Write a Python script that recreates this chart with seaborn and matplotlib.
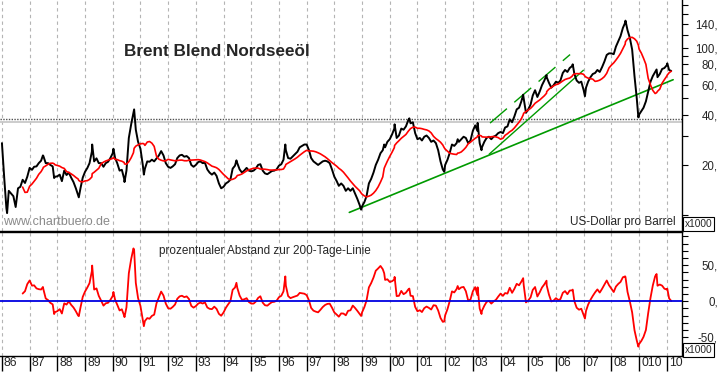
import numpy as np
import pandas as pd
import seaborn as sns
import matplotlib.pyplot as plt
from matplotlib.ticker import FixedLocator, NullFormatter
from matplotlib.transforms import ScaledTranslation

# Brent monthly values (USD/barrel), one row per year (month start)
p86 = [27, 16.5, 11, 14, 13.5, 13, 11.2, 14.5, 14.8, 16.3, 15.6, 17]
p87 = [19.2, 18.7, 19.5, 19.6, 20.5, 21.2, 22.6, 20.5, 20.5, 20, 19.6, 17]
p88 = [17.1, 17.5, 16, 18.5, 17.4, 18, 16.8, 15.8, 14.5, 13.2, 14.5, 16.8]
p89 = [18.2, 19.2, 20.5, 24, 21, 21.9, 20.5, 20.5, 19.5, 20.5, 20.9, 22]
p90 = [23.5, 22, 20.5, 18.5, 18.7, 16.5, 18.5, 29, 35, 41, 32.5, 27.5]
p91 = [25, 20, 19, 21, 20.9, 21.5, 21, 21.9, 22.8, 24.2, 22.8, 20.5]
p92 = [19.5, 19.2, 19.6, 20.2, 22, 22.8, 23, 22.4, 22.6, 22, 20, 19.5]
p93 = [20, 20.8, 21, 20.5, 20.6, 18.8, 18, 17.5, 18, 17.2, 15.5, 14.5]
p94 = [14.8, 15.5, 15.8, 16.3, 19, 19.8, 20.5, 18.8, 18, 18.5, 19.2, 18.5]
p95 = [18.3, 18.5, 19, 20, 20.2, 18.5, 17.8, 17.6, 18, 18.4, 18.5, 18.8]
p96 = [19.8, 20.2, 21.5, 24.5, 22, 21.8, 22.5, 23.2, 24, 25.5, 26, 26.5]
p97 = [26.5, 24.5, 22, 21, 20.5, 20, 20.5, 21, 21.2, 21, 20.5, 18.8]
p98 = [17, 16, 15, 15.5, 15, 14, 14.5, 14, 14.5, 13.5, 12.5, 11.5]
p99 = [11.3, 12, 13, 15.5, 16.5, 18, 20, 21.5, 23.5, 24.5, 25.5, 27.5]
p00 = [28.5, 30.5, 33, 29, 30, 33, 32.5, 34, 37, 35.5, 36, 31]
p01 = [28.5, 29, 28, 29.5, 30, 29, 27.5, 28, 27, 24.5, 21, 18.8]
p02 = [20, 21.5, 23.5, 26.5, 26, 27, 27.5, 28.5, 29.5, 29, 27, 28]
p03 = [32, 34.5, 32, 27, 25.5, 27.5, 29, 29.5, 28.5, 29.5, 30, 31]
p04 = [31.5, 31, 33.5, 34, 37.5, 36, 39, 43, 44, 48, 50, 41]
p05 = [43, 46, 52, 56, 51, 55, 60, 64, 67, 62, 58, 60]
p06 = [63, 62, 64, 71, 74, 72, 76, 78, 70, 64, 62, 63]
p07 = [56, 58, 63, 67, 70, 71, 74, 72, 77, 83, 91, 93]
p08 = [93, 92, 102, 110, 118, 132, 142, 128, 115, 98, 68, 50]
p09 = [40, 42, 44, 48, 55, 63, 68, 72, 67, 70, 75, 76]
p10 = [79, 74, 73]

brent = (p86 + p87 + p88 + p89 + p90 + p91 + p92 + p93 + p94 + p95 + p96 + p97 + p98
         + p99 + p00 + p01 + p02 + p03 + p04 + p05 + p06 + p07 + p08 + p09 + p10)

# intra-month highs / lows visible as spikes in the chart
spike_dates = ["1986-03-10", "1987-06-25", "1987-11-20", "1988-10-10", "1989-04-05",
               "1990-01-10", "1990-06-05", "1990-10-10", "1991-02-15", "1994-06-20",
               "1996-03-25", "1998-12-20", "1999-10-20", "2000-03-05", "2000-09-15",
               "2001-12-20", "2002-06-15", "2003-03-05", "2003-04-25", "2004-10-25",
               "2005-08-30", "2006-08-10", "2007-01-18", "2008-07-05", "2008-12-22",
               "2009-08-20", "2010-01-08"]
spike_values = [10.3, 22.8, 16.7, 12.8, 26.5,
                25, 15.8, 43, 17.5, 21.3,
                26.5, 10.8, 26.5, 35, 38,
                18.2, 28.5, 35.7, 24.5, 52.6,
                69, 80, 51.5, 146, 38.5,
                74.5, 81]

# trend lines (decimal year, price)
trend_long_t = [1998.54, 2010.23]
trend_long_v = [10.4, 64.7]
trend_mid_t = [2003.59, 2006.99]
trend_mid_v = [23.2, 73.7]
channel_t = [2003.62, 2006.51]
channel_v = [35.6, 91.5]
level_dark = 37.7
level_light = 36.2

year_ticks = list(range(1986, 2011))
year_labels = ['86', '87', '88', '89', '90', '91', '92', '93', '94', '95', '96', '97', '98',
               '99', '00', '01', '02', '03', '04', '05', '06', '07', '08', '010', '10']
price_ticks = [20, 40, 60, 80, 100, 140]
price_minor = [10, 30, 50, 70, 90, 120, 160, 180]
osc_ticks = [-50, 0, 50]
osc_minor = [-70, -60, -40, -30, -20, -10, 10, 20, 30, 40, 60, 70, 80, 90]

monthly = pd.DataFrame({"date": pd.date_range("1986-01-01", periods=len(brent), freq="MS"),
                        "price": brent})
spikes = pd.DataFrame({"date": pd.to_datetime(spike_dates), "price": spike_values})
df = pd.concat([monthly, spikes]).sort_values("date").reset_index(drop=True)
df["t"] = df["date"].dt.year + (df["date"].dt.dayofyear - 1) / 365.25
# 200 trading days ~ 290 calendar days
df["ma200"] = df.rolling("290D", on="date")["price"].mean()
df.loc[df["date"] < df["date"].iloc[0] + pd.Timedelta(days=270), "ma200"] = np.nan
df["abstand"] = (df["price"] / df["ma200"] - 1) * 100

sns.set_style("white")
plt.rcParams['font.family'] = ['Liberation Sans', 'DejaVu Sans']

W, H = 723, 373
fig = plt.figure(figsize=(W / 100, H / 100), dpi=100)
ax1 = fig.add_axes([0, 1 - 231 / H, 682 / W, 231 / H])
ax2 = fig.add_axes([0, 1 - 356 / H, 682 / W, 124 / H])

xlim = (1985.93, 2010.55)
grid_kw = dict(axis='x', color='#b4b4b4', linestyle=(0, (3, 3)), linewidth=0.8)

# ---- top panel: price, 200-day line, trend lines
ax1.axhline(level_light, color='#c8c8c8', lw=1.3, zorder=1)
ax1.axhline(level_dark, color='#505050', lw=1.0, ls=(0, (1, 1)), zorder=1)
sns.lineplot(data=df, x="t", y="price", color="black", lw=1.4, ax=ax1, zorder=3)
sns.lineplot(data=df, x="t", y="ma200", color="#ff0000", lw=1.2, ax=ax1, zorder=4)
sns.lineplot(x=trend_long_t, y=trend_long_v, color="#009a00", lw=1.2, ax=ax1, zorder=2)
sns.lineplot(x=trend_mid_t, y=trend_mid_v, color="#009a00", lw=1.0, ax=ax1, zorder=2)
sns.lineplot(x=channel_t, y=channel_v, color="#009a00", lw=1.0, ax=ax1, zorder=2,
             linestyle=(0, (16, 7)))
ax1.set_yscale('log')
ax1.set_ylim(8.05, 194)
ax1.set_xlim(*xlim)
ax1.set_xlabel('')
ax1.set_ylabel('')
ax1.set_xticks(year_ticks)
ax1.tick_params(axis='x', length=0, labelbottom=False)
ax1.grid(**grid_kw)
ax1.yaxis.tick_right()
ax1.yaxis.set_major_locator(FixedLocator(price_ticks))
ax1.yaxis.set_minor_locator(FixedLocator(price_minor))
ax1.yaxis.set_minor_formatter(NullFormatter())
ax1.set_yticks(price_ticks, labels=[f"{v}," for v in price_ticks], ha='right')
ax1.tick_params(axis='y', which='both', direction='out', length=4.3, width=0.8,
                color='black', labelsize=8.3, pad=21.5, right=True, left=False)
for side in ['left', 'top']:
    ax1.spines[side].set_visible(False)
for side in ['right', 'bottom']:
    ax1.spines[side].set_color('black')
    ax1.spines[side].set_linewidth(1.0)

# ---- bottom panel: percentage distance to 200-day line
sns.lineplot(data=df, x="t", y="abstand", color="#ff0000", lw=1.3, ax=ax2, zorder=3)
ax2.axhline(0, color='#0000e0', lw=1.3, zorder=4)
ax2.set_xlim(*xlim)
ax2.set_ylim(-76, 96)
ax2.set_xlabel('')
ax2.set_ylabel('')
ax2.grid(**grid_kw)
ax2.yaxis.tick_right()
ax2.yaxis.set_minor_locator(FixedLocator(osc_minor))
ax2.yaxis.set_minor_formatter(NullFormatter())
ax2.set_yticks(osc_ticks, labels=[f"{v}," for v in osc_ticks], ha='right')
ax2.tick_params(axis='y', which='both', direction='out', length=4.3, width=0.8,
                color='black', labelsize=8.3, pad=21.5, right=True, left=False)
ax2.set_xticks(year_ticks, labels=year_labels, ha='left')
ax2.tick_params(axis='x', direction='out', length=10.5, width=1.0, color='black',
                labelsize=8.8, pad=-9.5, bottom=True)
shift = ScaledTranslation(2 / 100, 0, fig.dpi_scale_trans)
for lab in ax2.get_xticklabels():
    lab.set_transform(lab.get_transform() + shift)
ax2.spines['left'].set_visible(False)
for side in ['right', 'bottom', 'top']:
    ax2.spines[side].set_color('black')
    ax2.spines[side].set_linewidth(1.0)

# ---- texts
fig.text(124 / W, 1 - 51 / H, "Brent Blend Nordseeöl", fontsize=12.3, fontweight='bold',
         ha='left', va='center')
fig.text(3 / W, 1 - 222.5 / H, "www.chartbuero.de", fontsize=9, color='#8a8a8a',
         ha='left', va='center')
fig.text(676 / W, 1 - 222 / H, "US-Dollar pro Barrel", fontsize=8.5, ha='right', va='center')
fig.text(159 / W, 1 - 251 / H, "prozentualer Abstand zur 200-Tage-Linie", fontsize=8.5,
         ha='left', va='center')
box = dict(boxstyle='square,pad=0.15', fc='white', ec='black', lw=0.8)
fig.text(685 / W, 1 - 224 / H, "x1000", fontsize=7.3, ha='left', va='center', bbox=box)
fig.text(685 / W, 1 - 350 / H, "x1000", fontsize=7.3, ha='left', va='center', bbox=box)

fig.savefig("out.png", dpi=100)
